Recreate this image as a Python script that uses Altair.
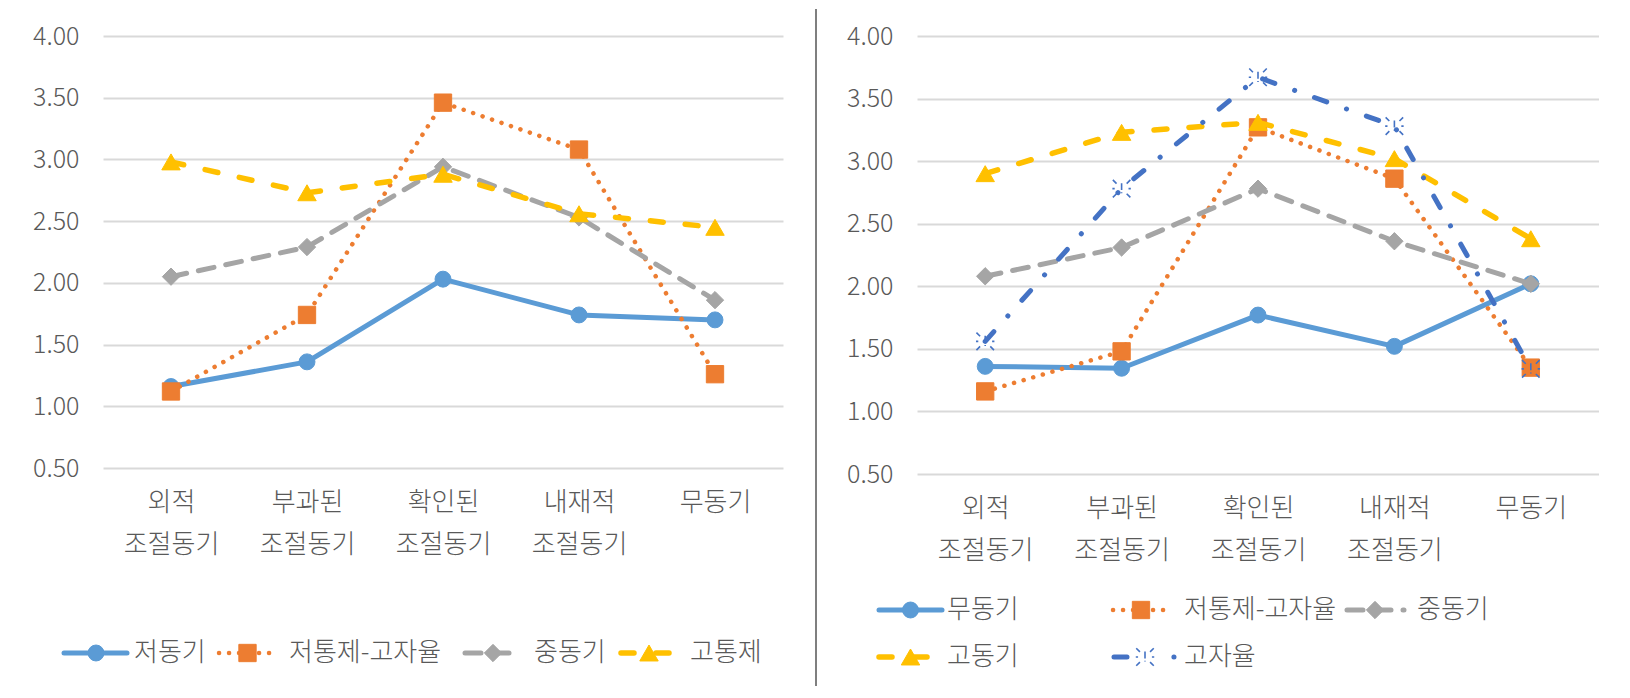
import altair as alt
import pandas as pd

# ---------------- data ----------------
categories = ["외적\n조절동기", "부과된\n조절동기", "확인된\n조절동기", "내재적\n조절동기", "무동기"]

left_series = ["저동기", "저통제-고자율", "중동기", "고통제"]
left_low = [1.16, 1.36, 2.03, 1.74, 1.70]
left_lowctrl = [1.12, 1.74, 3.46, 3.08, 1.26]
left_mid = [2.05, 2.29, 2.94, 2.53, 1.86]
left_high = [2.98, 2.73, 2.88, 2.56, 2.45]

right_series = ["무동기", "저통제-고자율", "중동기", "고동기", "고자율"]
right_amot = [1.36, 1.345, 1.77, 1.52, 2.02]
right_lowctrl = [1.16, 1.48, 3.27, 2.86, 1.35]
right_mid = [2.08, 2.31, 2.78, 2.36, 2.02]
right_high = [2.90, 3.23, 3.31, 3.02, 2.38]
right_auto = [1.56, 2.78, 3.67, 3.28, 1.34]

y_ticks = [0.5, 1.0, 1.5, 2.0, 2.5, 3.0, 3.5, 4.0]

# ---------------- styles ----------------
F = "Noto Sans CJK KR"
FW = 300
TXT = "#595959"
GRID = "#d9d9d9"
BURST = ("M0,-0.6L0,0.15 M0,0.4L0,0.5 M-0.95,-0.95L-0.55,-0.55 M0.95,-0.95L0.55,-0.55 "
         "M-0.95,0.95L-0.55,0.55 M0.95,0.95L0.55,0.55 M-1,0L-0.75,0 M1,0L0.75,0")

S_BLUE = dict(color="#5B9BD5", w=5, dash=None, shape="circle", size=254, filled=True)
S_ORANGE = dict(color="#ED7D31", w=4.5, dash=[0.1, 9.9], shape="square", size=300, filled=True)
S_GRAY = dict(color="#A5A5A5", w=5, dash=[16, 12], shape="diamond", size=300, filled=True)
S_YELLOW = dict(color="#FFC000", w=5.5, dash=[13, 22], shape="triangle-up", size=340, filled=True)
S_DBLUE = dict(color="#4472C4", w=5, dash=[13, 21, 0.1, 21], shape=BURST, size=340, filled=False)


def line_kw(st):
    kw = dict(color=st["color"], strokeWidth=st["w"], strokeCap="round", strokeJoin="round")
    if st["dash"] is not None:
        kw["strokeDash"] = st["dash"]
    return kw


def point_kw(st):
    kw = dict(shape=st["shape"], size=st["size"], filled=st["filled"], opacity=1)
    if st["filled"]:
        kw.update(fill=st["color"], stroke=st["color"], strokeWidth=1)
    else:
        kw.update(stroke=st["color"], strokeWidth=1.6, fillOpacity=0)
    return kw


def make_panel(series, values, styles, W, H, legend, extras):
    xs = alt.X("cat:N", sort=categories,
               scale=alt.Scale(type="point", padding=0.5),
               axis=alt.Axis(title=None, labelAngle=0, labelFont=F, labelFontSize=26,
                             labelFontWeight=FW,
                             labelColor=TXT, labelExpr="split(datum.label, '\\n')",
                             labelLineHeight=42, labelPadding=21, ticks=False, tickSize=0,
                             domain=False, grid=False, labelBaseline="top"))
    ys = alt.Y("val:Q", scale=alt.Scale(domain=[0.5, 4.0], nice=False, zero=False),
               axis=alt.Axis(title=None, values=y_ticks, format=".2f", labelFont=F,
                             labelFontSize=25, labelFontWeight=FW, labelColor=TXT,
                             labelPadding=24, ticks=False, tickSize=0, domain=False,
                             gridColor=GRID, gridWidth=2))
    layers = []
    for name, vals, st in zip(series, values, styles):
        df = pd.DataFrame({"cat": categories, "val": vals, "series": name})
        base = alt.Chart(df)
        layers.append(base.mark_line(**line_kw(st)).encode(x=xs, y=ys))
        layers.append(base.mark_point(**point_kw(st)).encode(x=xs, y=ys))
    # legend
    for name, st, (x0, x1, xm, xt, yy, dash) in zip(series, styles, legend):
        one = alt.Data(values=[{"label": name}])
        lk = line_kw(st)
        if dash is not None:
            lk["strokeDash"] = dash
        layers.append(alt.Chart(one).mark_rule(**lk).encode(
            x=alt.value(x0), x2=alt.value(x1), y=alt.value(yy)))
        layers.append(alt.Chart(one).mark_point(**point_kw(st)).encode(
            x=alt.value(xm), y=alt.value(yy)))
        layers.append(alt.Chart(one).mark_text(align="left", baseline="middle", font=F,
                                               fontSize=26, fontWeight=FW, color=TXT).encode(
            x=alt.value(xt), y=alt.value(yy), text="label:N"))
    for (color, w, x0, y0, y1) in extras:
        one = alt.Data(values=[{"k": 1}])
        layers.append(alt.Chart(one).mark_rule(color=color, strokeWidth=w).encode(
            x=alt.value(x0), y=alt.value(y0), y2=alt.value(y1)))
    return alt.layer(*layers).properties(width=W, height=H)


left_legend = [
    (-39, 24, -7, 31, 617, None),
    (116, 173, 144.5, 186, 617, None),
    (362, 418, 390, 431, 617, None),
    (518, 574, 546, 587, 617, None),
]
right_legend = [
    (-38, 25, -6.5, 30, 574, None),
    (196, 253, 224, 267, 574, None),
    (430, 487, 458, 500, 574, None),
    (-38, 25, -6.5, 30, 621, None),
    (197, 257, 228, 267, 621, [13, 46.9, 0.1, 100]),
]

left = make_panel(left_series, [left_low, left_lowctrl, left_mid, left_high],
                  [S_BLUE, S_ORANGE, S_GRAY, S_YELLOW], 680, 432, left_legend,
                  [("white", 1, -94, -27, 400), ("#7f7f7f", 2, 713, -27, 650)])
right = make_panel(right_series, [right_amot, right_lowctrl, right_mid, right_high, right_auto],
                   [S_BLUE, S_ORANGE, S_GRAY, S_YELLOW, S_DBLUE], 682, 438, right_legend,
                   [("white", 1, -99, -27, 400)])

chart = alt.hconcat(left, right, spacing=0).properties(
    padding=0, background="white").configure_view(stroke=None)

chart.save("out.html", embed_options={"renderer": "svg", "actions": False})
